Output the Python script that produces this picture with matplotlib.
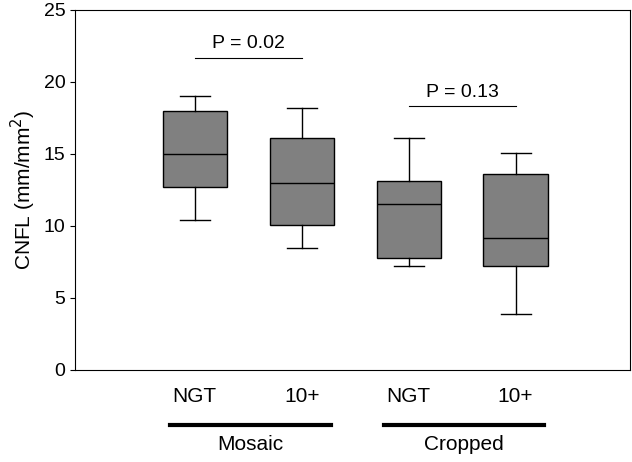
import matplotlib
matplotlib.use("Agg")
import matplotlib.pyplot as plt

plt.rcParams['font.family'] = ['Liberation Sans', 'DejaVu Sans']

labels = ["NGT", "10+", "NGT", "10+"]
groups = ["Mosaic", "Cropped"]
whislo = [10.4, 8.5, 7.2, 3.9]
q1 = [12.7, 10.1, 7.8, 7.2]
med = [15.0, 13.0, 11.5, 9.2]
q3 = [18.0, 16.1, 13.1, 13.6]
whishi = [19.0, 18.2, 16.1, 15.1]
pvals = ["P = 0.02", "P = 0.13"]
p_y = [21.7, 18.3]

fig = plt.figure(figsize=(6.32, 4.62), dpi=100)
ax = fig.add_axes([75/632, 92/462, 555/632, 360/462])

stats = [dict(whislo=a, q1=b, med=c, q3=d, whishi=e, fliers=[])
         for a, b, c, d, e in zip(whislo, q1, med, q3, whishi)]
pos = [1, 2, 3, 4]
ax.bxp(stats, positions=pos, widths=0.6, patch_artist=True, showfliers=False,
       boxprops=dict(facecolor='#808080', edgecolor='black', linewidth=1),
       medianprops=dict(color='black', linewidth=1),
       whiskerprops=dict(color='black', linewidth=1),
       capprops=dict(color='black', linewidth=1), capwidths=0.28)

ax.set_xlim(-0.12, 5.07)
ax.set_ylim(0, 25)
ax.set_yticks(range(0, 26, 5))
ax.set_xticks(pos)
ax.set_xticklabels(labels, fontsize=15)
ax.tick_params(axis='y', labelsize=14, direction='out')
ax.tick_params(axis='x', length=0, pad=12)
ax.set_ylabel("CNFL (mm/mm$^2$)", fontsize=15)

for i, (t, y) in enumerate(zip(pvals, p_y)):
    x0, x1 = pos[2*i], pos[2*i+1]
    ax.plot([x0, x1], [y, y], color='black', lw=0.8)
    ax.text((x0 + x1) / 2, y + 0.4, t, ha='center', va='bottom', fontsize=14)

for i, g in enumerate(groups):
    x0, x1 = pos[2*i] - 0.23, pos[2*i+1] + 0.27
    ax.plot([x0, x1], [-3.8, -3.8], color='black', lw=3, clip_on=False)
    ax.text((x0 + x1) / 2, -4.5, g, ha='center', va='top', fontsize=15)

fig.savefig("out.png", dpi=100)
